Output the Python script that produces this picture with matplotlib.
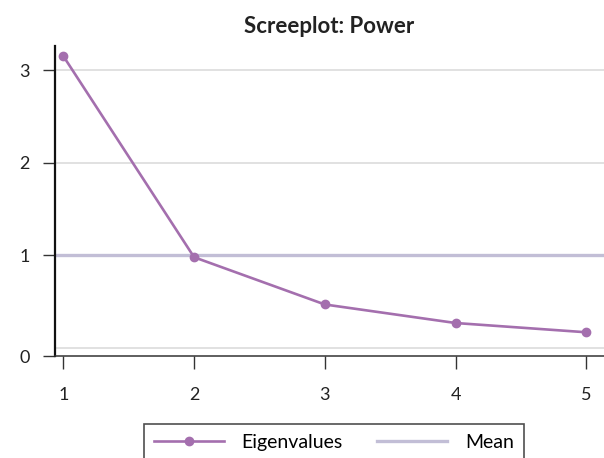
import matplotlib
matplotlib.use("Agg")
import matplotlib.pyplot as plt

# Daten: Eigenwerte je Komponente
components = [1, 2, 3, 4, 5]
eigenvalues = [3.15, 0.98, 0.47, 0.27, 0.17]
mean_value = 1.0
y_ticks = [0, 1, 2, 3]
title = "Screeplot: Power"

purple = "#A46FAE"
lavender = "#C2BED6"

plt.rcParams['font.family'] = ['Lato', 'DejaVu Sans']

fig = plt.figure(figsize=(6.04, 4.58), dpi=100)
ax = fig.add_axes([0.0906, 0.2227, 0.9094, 0.677])

ymin, ymax = -0.086, 3.26
ax.set_xlim(0.934, 5.135)
ax.set_ylim(ymin, ymax)

# Gitterlinien
for yv in y_ticks:
    ax.axhline(yv, color="#DEDEDE", lw=1.3, zorder=1)

mean_line = ax.axhline(mean_value, color=lavender, lw=2.4, zorder=2, label="Mean")
eig_line, = ax.plot(components, eigenvalues, color=purple, lw=1.9,
                    marker="o", markersize=6, zorder=3, label="Eigenvalues")

ax.set_xticks(components)
ax.set_xticklabels([str(c) for c in components])
# die 0 sitzt auf der Achsenlinie wie im Original
ax.set_yticks([ymin] + y_ticks[1:])
ax.set_yticklabels([str(v) for v in y_ticks])

for side in ["top", "right"]:
    ax.spines[side].set_visible(False)
ax.spines["left"].set_linewidth(1.6)
ax.spines["bottom"].set_linewidth(1.1)
ax.spines["left"].set_color("#111111")
ax.spines["bottom"].set_color("#333333")

ax.tick_params(axis="both", length=9, width=1.0, labelsize=13,
               colors="#333333", labelcolor="#222222")
ax.tick_params(axis="x", pad=13)
ax.tick_params(axis="y", pad=9)

ax.set_title(title, fontsize=16, fontweight="bold", color="#222222", pad=9)

leg = fig.legend(handles=[eig_line, mean_line], labels=["Eigenvalues", "Mean"],
                 ncol=2, loc="upper left", bbox_to_anchor=(0.2384, 0.0742),
                 borderaxespad=0, frameon=True, fancybox=False, fontsize=14,
                 handlelength=3.6, columnspacing=1.8, borderpad=0.5,
                 handletextpad=0.9)
leg.get_frame().set_edgecolor("#222222")
leg.get_frame().set_linewidth(1.2)

fig.savefig("out.png", dpi=100)
